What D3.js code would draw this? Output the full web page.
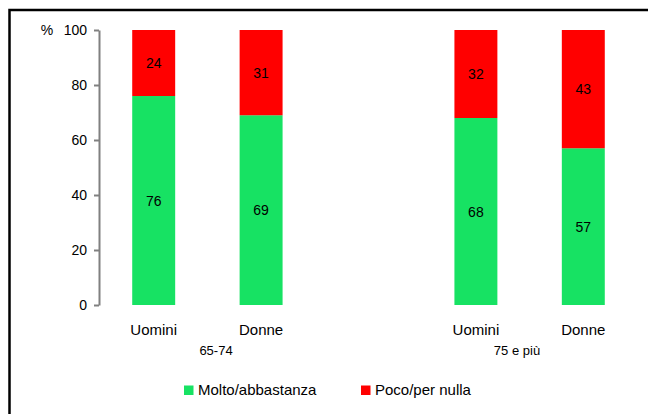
<!DOCTYPE html>
<html>
<head>
<meta charset="utf-8">
<script src="https://cdn.jsdelivr.net/npm/d3@7"></script>
<style>
  html, body { margin: 0; padding: 0; background: #fff; }
  svg { display: block; }
  text { font-family: Arial, "Liberation Sans", sans-serif; fill: #000; }
</style>
</head>
<body>
<svg id="chart" width="648" height="414"></svg>
<script>
const slots = ["65-74|Uomini", "65-74|Donne", "gap", "75 e più|Uomini", "75 e più|Donne"];
const categories = ["Uomini", "Donne", "Uomini", "Donne"];
const groupOf = ["65-74", "65-74", "75 e più", "75 e più"];
const groups = ["65-74", "75 e più"];
const molto = [76, 69, 68, 57];
const poco = [24, 31, 32, 43];
const yTicks = [0, 20, 40, 60, 80, 100];
const seriesNames = ["Molto/abbastanza", "Poco/per nulla"];
const colors = ["#17E263", "#FF0000"];

const svg = d3.select("#chart");

// frame
svg.append("rect").attr("x", 9.5).attr("y", 10).attr("width", 700).attr("height", 500)
  .attr("fill", "none").attr("stroke", "#000").attr("stroke-width", 2.5);

const x = d3.scaleBand().domain(slots).range([100, 637]).paddingInner(0.6).paddingOuter(0.3);
const y = d3.scaleLinear().domain([0, 100]).range([305, 30]);

const keys = categories.map((c, i) => groupOf[i] + "|" + c);

// y axis
const yAxis = d3.axisLeft(y).tickValues(yTicks).tickSize(5).tickPadding(7).tickSizeOuter(0);
const ya = svg.append("g").attr("transform", "translate(99,0)").call(yAxis);
ya.select(".domain").attr("stroke", "#808080").attr("stroke-width", 2);
ya.selectAll(".tick line").attr("stroke", "#808080").attr("stroke-width", 2);
ya.selectAll(".tick text").attr("font-size", 14).attr("font-family", "Arial, 'Liberation Sans', sans-serif").attr("fill", "#000");

svg.append("text").attr("x", 47).attr("y", 35).attr("text-anchor", "middle").attr("font-size", 14).text("%");

// bars
const bw = x.bandwidth();
keys.forEach((k, i) => {
  const x0 = x(k);
  svg.append("rect").attr("x", x0).attr("y", y(molto[i])).attr("width", bw)
    .attr("height", y(0) - y(molto[i])).attr("fill", colors[0]);
  svg.append("rect").attr("x", x0).attr("y", y(molto[i] + poco[i])).attr("width", bw)
    .attr("height", y(molto[i]) - y(molto[i] + poco[i])).attr("fill", colors[1]);
  svg.append("text").attr("x", x0 + bw / 2).attr("y", y(molto[i] / 2) + 5)
    .attr("text-anchor", "middle").attr("font-size", 14).text(molto[i]);
  svg.append("text").attr("x", x0 + bw / 2).attr("y", y(molto[i] + poco[i] / 2) + 5)
    .attr("text-anchor", "middle").attr("font-size", 14).text(poco[i]);
  svg.append("text").attr("x", x0 + bw / 2).attr("y", 335)
    .attr("text-anchor", "middle").attr("font-size", 15).text(categories[i]);
});

// group labels
const groupX = [216, 517];
groups.forEach((g, i) => {
  svg.append("text").attr("x", groupX[i]).attr("y", 355).attr("text-anchor", "middle")
    .attr("font-size", 13).text(g);
});

// legend
const legX = [184, 361];
seriesNames.forEach((s, i) => {
  svg.append("rect").attr("x", legX[i]).attr("y", 385.5).attr("width", 9.5).attr("height", 9.5).attr("fill", colors[i]);
  svg.append("text").attr("x", legX[i] + 14).attr("y", 394.5).attr("font-size", 15).text(s);
});
</script>
</body>
</html>
